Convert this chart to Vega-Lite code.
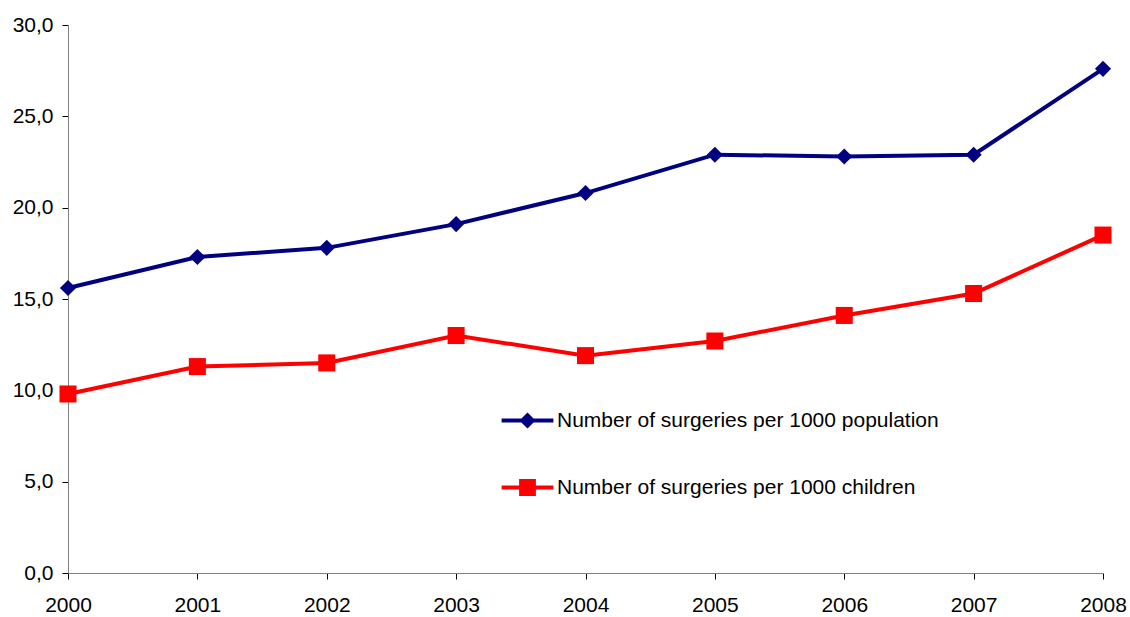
{
  "$schema": "https://vega.github.io/schema/vega-lite/v6.json",
  "width": 1035,
  "height": 548,
  "autosize": {"type": "none"},
  "padding": {"left": 68, "top": 25, "right": 27, "bottom": 44},
  "background": "white",
  "config": {
    "view": {"stroke": null},
    "font": "Liberation Sans",
    "locale": {"number": {"decimal": ",", "thousands": " ", "grouping": [3], "currency": ["", ""]}}
  },
  "data": {
    "values": [
      {"year": 2000, "series": "Number of surgeries per 1000 population", "value": 15.6},
      {"year": 2001, "series": "Number of surgeries per 1000 population", "value": 17.3},
      {"year": 2002, "series": "Number of surgeries per 1000 population", "value": 17.8},
      {"year": 2003, "series": "Number of surgeries per 1000 population", "value": 19.1},
      {"year": 2004, "series": "Number of surgeries per 1000 population", "value": 20.8},
      {"year": 2005, "series": "Number of surgeries per 1000 population", "value": 22.9},
      {"year": 2006, "series": "Number of surgeries per 1000 population", "value": 22.8},
      {"year": 2007, "series": "Number of surgeries per 1000 population", "value": 22.9},
      {"year": 2008, "series": "Number of surgeries per 1000 population", "value": 27.6},
      {"year": 2000, "series": "Number of surgeries per 1000 children", "value": 9.8},
      {"year": 2001, "series": "Number of surgeries per 1000 children", "value": 11.3},
      {"year": 2002, "series": "Number of surgeries per 1000 children", "value": 11.5},
      {"year": 2003, "series": "Number of surgeries per 1000 children", "value": 13.0},
      {"year": 2004, "series": "Number of surgeries per 1000 children", "value": 11.9},
      {"year": 2005, "series": "Number of surgeries per 1000 children", "value": 12.7},
      {"year": 2006, "series": "Number of surgeries per 1000 children", "value": 14.1},
      {"year": 2007, "series": "Number of surgeries per 1000 children", "value": 15.3},
      {"year": 2008, "series": "Number of surgeries per 1000 children", "value": 18.5}
    ]
  },
  "encoding": {
    "x": {
      "field": "year", "type": "quantitative",
      "scale": {"domain": [2000, 2008], "nice": false, "zero": false},
      "axis": {
        "title": null, "values": [2000, 2001, 2002, 2003, 2004, 2005, 2006, 2007, 2008],
        "format": "d", "grid": false, "labelFontSize": 21, "labelColor": "#000000",
        "labelPadding": 15, "tickSize": 6, "tickColor": "#000000", "domainColor": "#808080",
        "labelFlush": false, "labelOverlap": false
      }
    },
    "y": {
      "field": "value", "type": "quantitative",
      "scale": {"domain": [0, 30], "nice": false},
      "axis": {
        "title": null, "values": [0, 5, 10, 15, 20, 25, 30], "format": ".1f", "grid": false,
        "labelFontSize": 21, "labelColor": "#000000", "labelPadding": 9, "tickSize": 6,
        "tickColor": "#000000", "domainColor": "#808080", "labelFlush": false, "labelOverlap": false
      }
    },
    "color": {
      "field": "series", "type": "nominal",
      "scale": {
        "domain": ["Number of surgeries per 1000 population", "Number of surgeries per 1000 children"],
        "range": ["#000080", "#FF0000"]
      },
      "legend": {
        "title": null, "orient": "none", "legendX": 449, "legendY": 385, "padding": 0,
        "labelFontSize": 21, "labelColor": "#000000", "labelOffset": 19, "rowPadding": 45,
        "symbolSize": 196, "labelLimit": 700,
        "encode": {
          "symbols": {
            "update": {
              "shape": {"signal": "datum.value === 'Number of surgeries per 1000 population' ? 'M-3.7,-0.3H3.7V0.3H-3.7ZM0,-1.15L1.15,0L0,1.15L-1.15,0Z' : 'M-3.7,-0.3H3.7V0.3H-3.7ZM-1.2,-1.2H1.2V1.2H-1.2Z'"},
              "fill": {"signal": "datum.value === 'Number of surgeries per 1000 population' ? '#000080' : '#FF0000'"},
              "stroke": {"value": "transparent"},
              "strokeWidth": {"value": 0},
              "size": {"value": 196},
              "opacity": {"value": 1},
              "fillOpacity": {"value": 1}
            }
          }
        }
      }
    }
  },
  "layer": [
    {"mark": {"type": "line", "strokeWidth": 4}},
    {
      "transform": [{"filter": "datum.series === 'Number of surgeries per 1000 population'"}],
      "mark": {"type": "point", "filled": true, "opacity": 1, "shape": "diamond", "size": 260}
    },
    {
      "transform": [{"filter": "datum.series === 'Number of surgeries per 1000 children'"}],
      "mark": {"type": "point", "filled": true, "opacity": 1, "shape": "square", "size": 290}
    }
  ]
}
